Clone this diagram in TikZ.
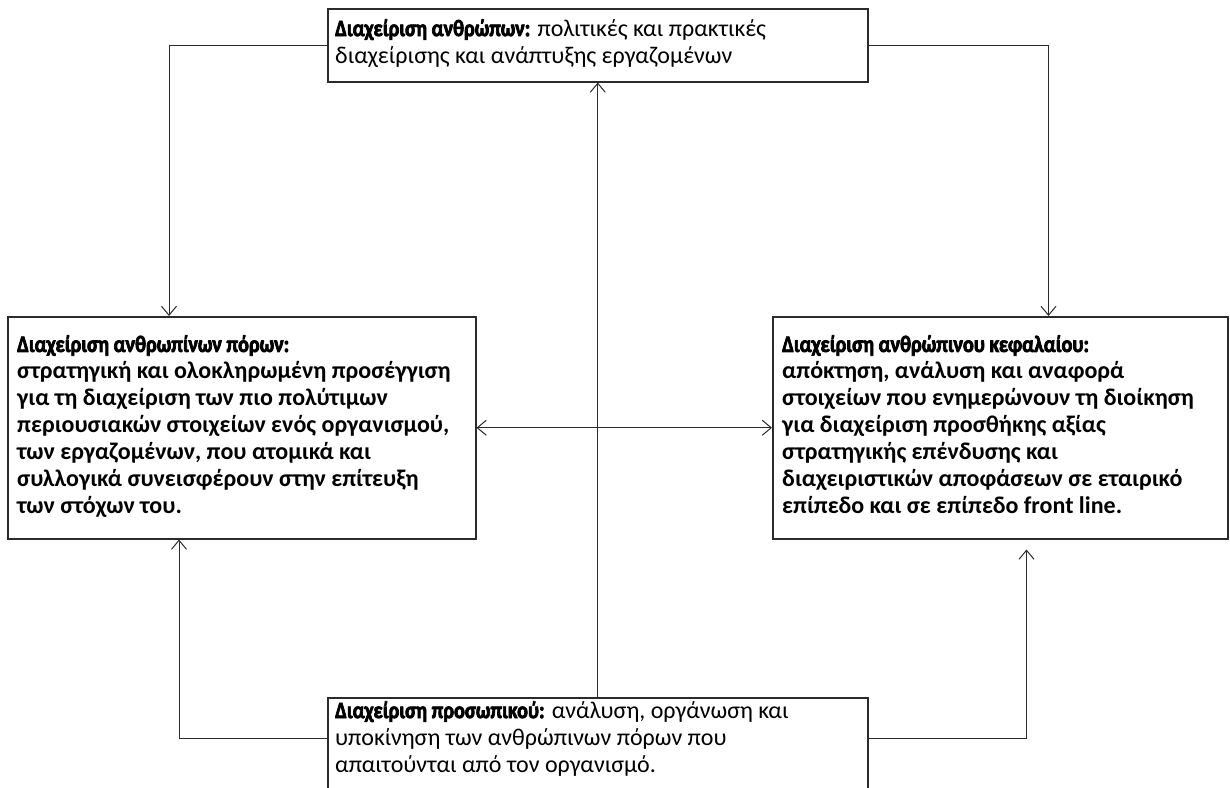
\documentclass[tikz,border=0pt]{standalone}
\usepackage{fontspec}
\setmainfont{Carlito}
\newfontfamily\hdfont{Carlito}[BoldFeatures={FakeBold=3,FakeStretch=0.86}]
\usetikzlibrary{arrows.meta}
\definecolor{ink}{HTML}{2B2B2B}
\tikzset{
  box/.style={draw=ink, line width=1.5pt, rectangle, inner sep=0pt, anchor=north west},
  boxtext/.style={anchor=north west, inner sep=0pt, align=left, font=\fontsize{24}{27}\selectfont},
  link/.style={draw=ink, line width=1pt, -{Straight Barb[length=9pt,width=15pt,line width=1pt]}},
  twolink/.style={draw=ink, line width=1pt, {Straight Barb[length=9pt,width=15pt,line width=1pt]}-{Straight Barb[length=9pt,width=15pt,line width=1pt]}},
}
\newcommand{\hd}[1]{{\hdfont\bfseries\fontsize{23.5}{27}\selectfont #1}}
\begin{document}
\begin{tikzpicture}[x=1pt,y=-1pt]
  \useasboundingbox (0,0) rectangle (1230,787);
  \begin{scope}
  \clip (0,0) rectangle (1230,787);

  % frames
  \node[box, minimum width=540pt, minimum height=73pt] (top) at (327,8) {};
  \node[box, minimum width=468pt, minimum height=222pt] (lbox) at (7,316) {};
  \node[box, minimum width=455pt, minimum height=222pt] (rbox) at (772,316) {};
  \node[box, minimum width=540pt, minimum height=120pt] (bot) at (327,697) {};

  % texts
  \node[boxtext] (toptext) at (335,19) {\hd{Διαχείριση ανθρώπων:} πολιτικές και πρακτικές\\διαχείρισης και ανάπτυξης εργαζομένων};
  \node[boxtext, font=\fontsize{24}{27}\selectfont\bfseries] (ltext) at (17,335) {\hd{Διαχείριση ανθρωπίνων πόρων:}\\στρατηγική και ολοκληρωμένη προσέγγιση\\για τη διαχείριση των πιο πολύτιμων\\περιουσιακών στοιχείων ενός οργανισμού,\\των εργαζομένων, που ατομικά και\\συλλογικά συνεισφέρουν στην επίτευξη\\των στόχων του.};
  \node[boxtext, font=\fontsize{24}{27}\selectfont\bfseries] (rtext) at (782,335) {\hd{Διαχείριση ανθρώπινου κεφαλαίου:}\\απόκτηση, ανάλυση και αναφορά\\στοιχείων που ενημερώνουν τη διοίκηση\\για διαχείριση προσθήκης αξίας\\στρατηγικής επένδυσης και\\διαχειριστικών αποφάσεων σε εταιρικό\\επίπεδο και σε επίπεδο front line.};
  \node[boxtext] (bottext) at (335,701) {\hd{Διαχείριση προσωπικού:} ανάλυση, οργάνωση και\\υποκίνηση των ανθρώπινων πόρων που\\απαιτούνται από τον οργανισμό.};

  % connectors
  \draw[link] (top.west) -| ([xshift=162pt]lbox.north west);
  \draw[link] (top.east) -| ([xshift=-180pt]rbox.north east);
  \draw[link] (bot.north) -- (top.south);
  \draw[twolink] (lbox.east) -- (rbox.west);
  \draw[link] ([yshift=-41pt]bot.north west) -| ([xshift=172pt]lbox.south west);
  \draw[link, shorten >=10pt] ([yshift=-41pt]bot.north east) -| ([xshift=-202pt]rbox.south east);
  \end{scope}
\end{tikzpicture}
\end{document}
